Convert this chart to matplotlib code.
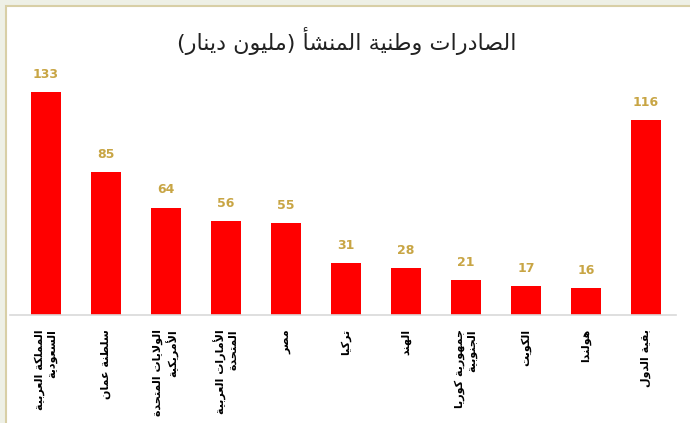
import matplotlib
matplotlib.use("Agg")
import matplotlib.pyplot as plt
from matplotlib.patches import Rectangle

# data
categories = [
    "المملكة العربية\nالسعودية",
    "سلطنة عمان",
    "الولايات المتحدة\nالأمريكية",
    "الأمارات العربية\nالمتحدة",
    "مصر",
    "تركيا",
    "الهند",
    "جمهورية كوريا\nالجنوبية",
    "الكويت",
    "هولندا",
    "بقية الدول",
]
values = [133, 85, 64, 56, 55, 31, 28, 21, 17, 16, 116]
title = "الصادرات وطنية المنشأ (مليون دينار)"

# matplotlib has no arabic shaping, so do it by hand with presentation forms
FORMS = {
    "ء": (0xFE80,), "آ": (0xFE81, 0xFE82), "أ": (0xFE83, 0xFE84),
    "ؤ": (0xFE85, 0xFE86), "إ": (0xFE87, 0xFE88),
    "ئ": (0xFE89, 0xFE8A, 0xFE8B, 0xFE8C), "ا": (0xFE8D, 0xFE8E),
    "ب": (0xFE8F, 0xFE90, 0xFE91, 0xFE92), "ة": (0xFE93, 0xFE94),
    "ت": (0xFE95, 0xFE96, 0xFE97, 0xFE98), "ث": (0xFE99, 0xFE9A, 0xFE9B, 0xFE9C),
    "ج": (0xFE9D, 0xFE9E, 0xFE9F, 0xFEA0), "ح": (0xFEA1, 0xFEA2, 0xFEA3, 0xFEA4),
    "خ": (0xFEA5, 0xFEA6, 0xFEA7, 0xFEA8), "د": (0xFEA9, 0xFEAA),
    "ذ": (0xFEAB, 0xFEAC), "ر": (0xFEAD, 0xFEAE), "ز": (0xFEAF, 0xFEB0),
    "س": (0xFEB1, 0xFEB2, 0xFEB3, 0xFEB4), "ش": (0xFEB5, 0xFEB6, 0xFEB7, 0xFEB8),
    "ص": (0xFEB9, 0xFEBA, 0xFEBB, 0xFEBC), "ض": (0xFEBD, 0xFEBE, 0xFEBF, 0xFEC0),
    "ط": (0xFEC1, 0xFEC2, 0xFEC3, 0xFEC4), "ظ": (0xFEC5, 0xFEC6, 0xFEC7, 0xFEC8),
    "ع": (0xFEC9, 0xFECA, 0xFECB, 0xFECC), "غ": (0xFECD, 0xFECE, 0xFECF, 0xFED0),
    "ف": (0xFED1, 0xFED2, 0xFED3, 0xFED4), "ق": (0xFED5, 0xFED6, 0xFED7, 0xFED8),
    "ك": (0xFED9, 0xFEDA, 0xFEDB, 0xFEDC), "ل": (0xFEDD, 0xFEDE, 0xFEDF, 0xFEE0),
    "م": (0xFEE1, 0xFEE2, 0xFEE3, 0xFEE4), "ن": (0xFEE5, 0xFEE6, 0xFEE7, 0xFEE8),
    "ه": (0xFEE9, 0xFEEA, 0xFEEB, 0xFEEC), "و": (0xFEED, 0xFEEE),
    "ى": (0xFEEF, 0xFEF0), "ي": (0xFEF1, 0xFEF2, 0xFEF3, 0xFEF4),
}
LAM_ALEF = {"آ": (0xFEF5, 0xFEF6), "أ": (0xFEF7, 0xFEF8),
            "إ": (0xFEF9, 0xFEFA), "ا": (0xFEFB, 0xFEFC)}
MIRROR = {"(": ")", ")": "("}


def shape_line(s):
    out = []
    i = 0
    prev_joins = False
    while i < len(s):
        c = s[i]
        if c not in FORMS:
            out.append(MIRROR.get(c, c))
            prev_joins = False
            i += 1
            continue
        if c == "ل" and i + 1 < len(s) and s[i + 1] in LAM_ALEF:
            f = LAM_ALEF[s[i + 1]]
            out.append(chr(f[1] if prev_joins else f[0]))
            prev_joins = False
            i += 2
            continue
        f = FORMS[c]
        nxt = s[i + 1] if i + 1 < len(s) else ""
        next_joins = len(f) == 4 and nxt in FORMS and nxt != "ء"
        if len(f) == 1:
            g = f[0]
        elif prev_joins and next_joins:
            g = f[3]
        elif prev_joins:
            g = f[1]
        elif next_joins:
            g = f[2]
        else:
            g = f[0]
        out.append(chr(g))
        prev_joins = len(f) == 4
        i += 1
    return "".join(reversed(out))


def ar(s):
    return "\n".join(shape_line(line) for line in s.split("\n"))


plt.rcParams["font.family"] = ["DejaVu Sans"]

fig = plt.figure(figsize=(6.9, 4.23), dpi=100)
fig.patch.set_facecolor("#eef0e6")
panel = Rectangle((6 / 690, -0.05), 1, 1.05 - 6 / 423, transform=fig.transFigure,
                  facecolor="white", edgecolor="#d8cfa6", linewidth=1.5, zorder=-10)
fig.patches.append(panel)

ax = fig.add_axes([10 / 690, 108 / 423, 666 / 690, 235 / 423])
ax.set_facecolor("none")
x = list(range(len(values)))
bars = ax.bar(x, values, width=0.5, color="#ff0000")

for b, v in zip(bars, values):
    ax.annotate(str(v), (b.get_x() + b.get_width() / 2, v), xytext=(0, 8),
                textcoords="offset points", ha="center", va="bottom",
                fontsize=9, fontweight="bold", color="#c8a544")

ax.set_xlim(-0.6, 10.5)
ax.set_ylim(0, 140)
ax.set_yticks([])
ax.set_xticks(x)
ax.set_xticklabels([ar(c) for c in categories], rotation=90, fontsize=8,
                   fontweight="bold", va="top", ha="center", multialignment="right")
ax.tick_params(axis="x", length=0, pad=10)
for s in ["top", "left", "right"]:
    ax.spines[s].set_visible(False)
ax.spines["bottom"].set_color("#d9d9d9")
ax.spines["bottom"].set_linewidth(1.2)

fig.text(347 / 690, 1 - 41 / 423, ar(title), ha="center", va="center",
         fontsize=16, color="#222222")

fig.savefig("out.png", dpi=100, facecolor=fig.get_facecolor())
